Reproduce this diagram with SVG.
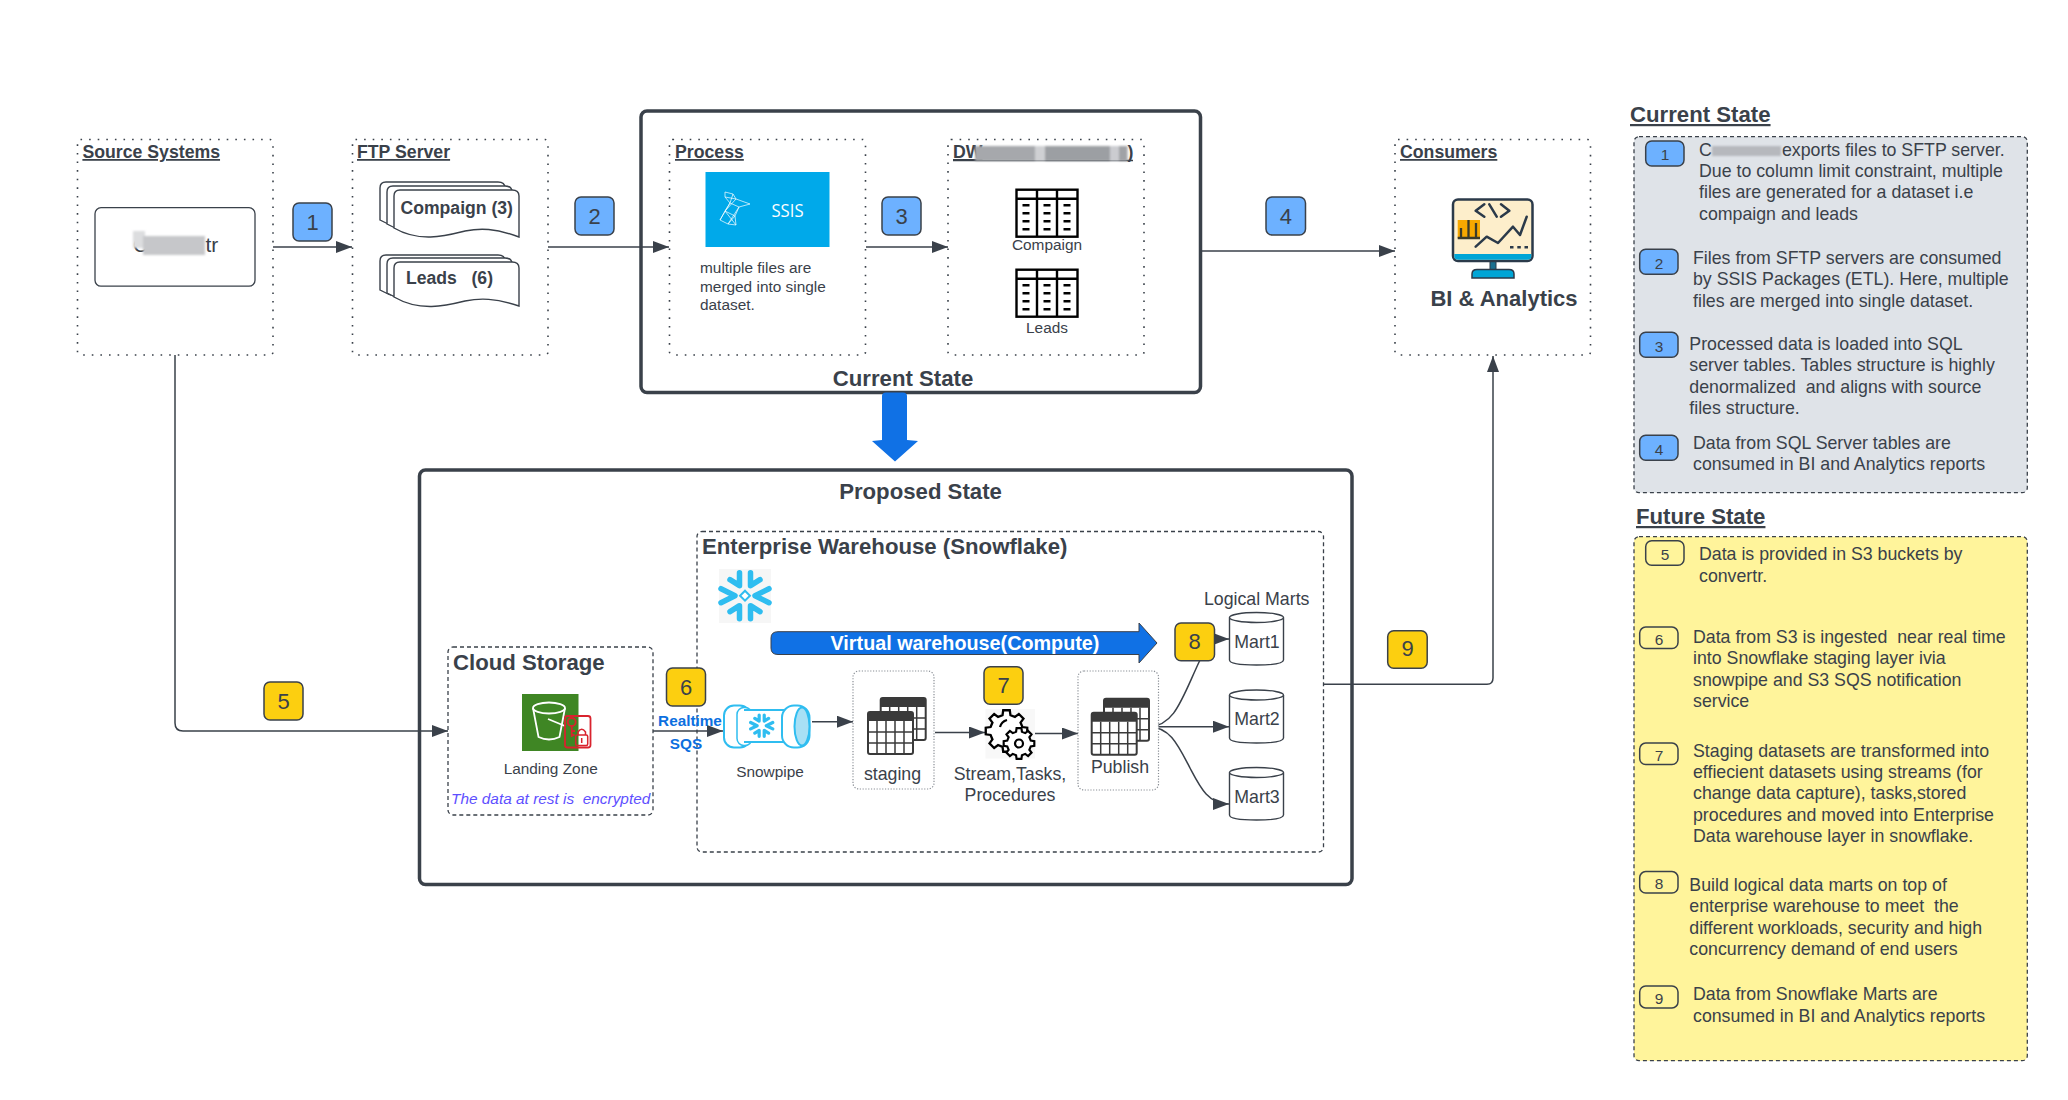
<svg xmlns="http://www.w3.org/2000/svg" width="2068" height="1100" viewBox="0 0 2068 1100">
<style>
text{font-family:"Liberation Sans",Arial,sans-serif;fill:#3a414a;white-space:pre}
.t{font-size:17.75px}
.h{font-size:17.7px;font-weight:bold;text-decoration:underline}
.b22{font-size:22.2px;font-weight:bold}
.s{font-size:15.4px}
.c{text-anchor:middle}
.num{font-size:22px;text-anchor:middle}
.n{font-size:15.4px;text-anchor:middle}
.dot{fill:none;stroke:#3a414a;stroke-width:1.6;stroke-dasharray:1.6 7}
.dash{fill:none;stroke:#3a414a;stroke-width:1.3;stroke-dasharray:4 3}
.frame{fill:#fff;stroke:#3a414a;stroke-width:3.5}
.lite{fill:#fff;stroke:#8a8f96;stroke-width:1.2;stroke-dasharray:1.2 1.6}
.bb{fill:#6db1ff;stroke:#3a414a;stroke-width:1.5}
.by{fill:#fccf10;stroke:#3a414a;stroke-width:1.5}
.bn{fill:none;stroke:#3a414a;stroke-width:1.5}
.conn{fill:none;stroke:#3a414a;stroke-width:1.5;marker-end:url(#arr)}
.doc{fill:#fff;stroke:#3a414a;stroke-width:1.4}
.cyl{fill:#fff;stroke:#3a414a;stroke-width:1.4}
.arm{fill:none;stroke:#2fbdf0;stroke-linecap:round;stroke-linejoin:round}
.blur{filter:url(#soft)}
.red{fill:none;stroke:#d9232e}
.mon{fill:none;stroke:#2b3a4a;stroke-width:2.5;stroke-linejoin:round;stroke-linecap:round}
</style>
<defs>
<filter id="soft" x="-5%" y="-20%" width="110%" height="140%"><feGaussianBlur stdDeviation="1"/></filter>
<marker id="arr" markerUnits="userSpaceOnUse" markerWidth="17" markerHeight="12" refX="16" refY="6" orient="auto"><path d="M0 0L16 6L0 12Z" fill="#3a414a"/></marker>
<path id="d1" d="M394 228V196Q394 190 400 190H512Q519 190 519 196V237C495 228 480 228 465 231C445 236 420 243 394 228Z"/>
<path id="d2" d="M394 297V268Q394 262 400 262H512Q519 262 519 268V306C495 298 480 298 465 301C445 306 420 312 394 297Z"/>
<g id="dwt">
<rect x="1" y="1" width="61" height="47" fill="#fff" stroke="#000" stroke-width="2.4"/>
<path d="M1 10H62M21.500 1V48M41.500 1V48" stroke="#000" stroke-width="2.4" fill="none"/>
<path d="M7 16.500h7M7 24.500h7M7 32.500h7M7 40.500h7M28 16.500h7M28 24.500h7M28 32.500h7M28 40.500h7M48 16.500h7M48 24.500h7M48 32.500h7M48 40.500h7" stroke="#000" stroke-width="2.400"/>
</g>
<g id="grid">
<rect x="0" y="0" width="45" height="42" rx="2" fill="#fff" stroke="#3a3a3a" stroke-width="2"/>
<path d="M0 2Q0 0 2 0H43Q45 0 45 2V9H0Z" fill="#3a3a3a"/>
<path d="M9 9V42M18 9V42M27 9V42M36 9V42M0 20H45M0 31H45" stroke="#3a3a3a" stroke-width="1.500" fill="none"/>
</g>
<path id="flake" class="arm" d="M-5.500 -23V-10L-15 -16M5.500 -23V-10L15 -16M-5.500 23V10L-15 16M5.500 23V10L15 16M-24 -7L-10 0L-24 7M24 -7L10 0L24 7"/>
<path id="gear" d="M-18.900-75.700L-15.600-98.800L15.600-98.800L18.900-75.700L40.200-66.900L58.800-80.900L80.900-58.800L66.900-40.200L75.700-18.900L98.800-15.600L98.800 15.600L75.700 18.900L66.900 40.200L80.900 58.800L58.800 80.900L40.200 66.900L18.900 75.700L15.600 98.800L-15.600 98.800L-18.900 75.700L-40.200 66.900L-58.800 80.900L-80.900 58.800L-66.900 40.200L-75.700 18.900L-98.800 15.600L-98.800-15.600L-75.700-18.900L-66.900-40.200L-80.900-58.800L-58.800-80.900L-40.200-66.900Z"/>
</defs>

<rect width="2068" height="1100" fill="#fff"/>

<g id="current-state-frame"><rect class="frame" x="641" y="111" width="559.500" height="281.500" rx="6"/>
<text class="b22 c" x="903" y="385.500">Current State</text></g>
<g id="proposed-state-frame"><rect class="frame" x="419.500" y="470" width="932.500" height="414.500" rx="6"/>
<text class="b22 c" x="920.500" y="498.500">Proposed State</text></g>
<g id="enterprise-warehouse"><rect class="dash" x="697" y="531.500" width="626.500" height="320.500" rx="5"/>
<text class="b22" x="702" y="553.500">Enterprise Warehouse (Snowflake)</text></g>

<g id="connectors">
<path class="conn" d="M273 247H352"/>
<path class="conn" d="M548 247H669"/>
<path class="conn" d="M866 247H948"/>
<path class="conn" d="M1200.500 251H1395"/>
<path class="conn" d="M175 355V723Q175 731 183 731H448"/>
<path class="conn" d="M653 731H723"/>
<path class="conn" d="M812 721.700H853"/>
<path class="conn" d="M935 732.500H985"/>
<path class="conn" d="M1035 733.500H1078"/>
<path class="conn" d="M1149 726.700C1175 726 1182 698 1200 660C1208 645 1212 639 1229 639"/>
<path class="conn" d="M1149 726.700H1229"/>
<path class="conn" d="M1149 726.700C1170 727 1178 745 1190 768C1200 787 1208 804 1229 804"/>
<path class="conn" d="M1323.500 684.300H1487Q1493 684.300 1493 678V356"/>
</g>

<g id="source-systems"><rect class="dot" x="77.500" y="139.500" width="195.500" height="215.500" rx="3"/>
<text class="h" x="82.400" y="158">Source Systems</text>
<rect x="95" y="207.700" width="160" height="78.500" rx="6" fill="#fff" stroke="#3a414a" stroke-width="1.300"/>
<text x="133" y="251.500" font-size="21">C</text><text x="205.500" y="251.500" font-size="21">tr</text>
<g class="blur"><rect x="133" y="231" width="12" height="17" fill="#dcdddf"/><rect x="143" y="236" width="62" height="19" fill="#c6c7ca"/></g></g>

<g id="ftp-server"><rect class="dot" x="352.500" y="139.500" width="195.500" height="215.500" rx="3"/>
<text class="h" x="357" y="158">FTP Server</text>
<use href="#d1" class="doc" x="-14" y="-8"/><use href="#d1" class="doc" x="-7" y="-4"/><use href="#d1" class="doc"/>
<text class="t" font-weight="bold" x="400.500" y="214" style="font-size:17.6px">Compaign (3)</text>
<use href="#d2" class="doc" x="-14" y="-7"/><use href="#d2" class="doc" x="-7" y="-4"/><use href="#d2" class="doc"/>
<text class="t" font-weight="bold" x="406" y="283.500" style="font-size:17.6px">Leads   (6)</text></g>

<g id="process"><rect class="dot" x="669.500" y="139.500" width="196" height="215.500" rx="3"/>
<text class="h" x="675" y="158">Process</text>
<rect x="705.500" y="172" width="124" height="75" fill="#00a9ea"/>
<path d="M725 192L733 194L736 199L750 204L739 207L735 216L736 225L728 224L720 220L725 211L730 203L725 197ZM725 197L736 199M730 203L739 207M725 211L735 216M720 220L730 203M728 224L739 207M733 194L730 203M736 199L725 211M736 225L725 211M735 216L728 224" fill="none" stroke="#fff" stroke-width=".7"/>
<text x="787.500" y="216.500" font-size="18" class="c" textLength="32" lengthAdjust="spacingAndGlyphs" style="fill:#fff;font-family:'Open Sans',sans-serif">SSIS</text>
<text class="s" x="700" y="273">multiple files are</text>
<text class="s" x="700" y="291.500">merged into single</text>
<text class="s" x="700" y="310">dataset.</text></g>

<g id="dwh"><rect class="dot" x="948" y="139.500" width="196" height="215.500" rx="3"/>
<text class="h" x="953" y="158">DW</text><path d="M953 160.500H1133" stroke="#3a414a" stroke-width="1.300"/><text class="t" font-weight="bold" x="1127.500" y="158">)</text>
<g class="blur"><rect x="975" y="146" width="60" height="15" fill="#a6a8ac"/><rect x="1035" y="146" width="10" height="15" fill="#cfd0d3"/><rect x="1045" y="146" width="65" height="15" fill="#9c9fa3"/><rect x="1110" y="146" width="9" height="15" fill="#cbccd0"/><rect x="1119" y="146" width="8.500" height="15" fill="#a0a2a6"/></g>
<use href="#dwt" x="1015.500" y="188.700"/><text class="s c" x="1047" y="250">Compaign</text>
<use href="#dwt" x="1015.500" y="268.700"/><text class="s c" x="1047" y="332.500">Leads</text></g>

<g id="consumers"><rect class="dot" x="1395" y="139.500" width="195.500" height="215.500" rx="3"/>
<text class="h" x="1400" y="158">Consumers</text>
<rect x="1490" y="261" width="6" height="9" fill="#1a6f8f" stroke="#2b3a4a"/>
<path d="M1472 278V274Q1472 269.500 1477 269.500H1509Q1514 269.500 1514 274V278Z" fill="#00a5d6" stroke="#2b3a4a" stroke-width="1.500"/>
<rect x="1453" y="199.500" width="79.500" height="61.500" rx="5" fill="#fdeecb" stroke="#2b3a4a" stroke-width="2.500"/>
<path d="M1454.300 254H1531.300V256.500Q1531.300 259.800 1527 259.800H1458.500Q1454.300 259.800 1454.300 256.500Z" fill="#00a5d6"/>
<rect x="1457.700" y="220" width="22.300" height="18" fill="#f7a800"/>
<path d="M1461 238V228M1468.500 238V220M1476 238V223M1457.700 238H1480" fill="none" stroke="#3a3a2a" stroke-width="2.300"/>
<path class="mon" d="M1484.300 204.300L1475.700 210.700L1484.300 216.700M1501 204.300L1509.300 210.700L1501 216.700M1489.300 204.300L1496.700 216.700M1475.700 246.700L1486.700 236.700L1498 243L1513 226.700L1520 235L1526.700 216.700"/>
<path d="M1510 247.300h3.500M1517.300 247.300h3.500M1524.500 247.300h3.500" stroke="#2b3a4a" stroke-width="2.500"/>
<text x="1504" y="306" font-size="22" font-weight="bold" class="c">BI &amp; Analytics</text></g>

<g id="cloud-storage"><rect class="dash" x="448" y="647" width="205" height="168" rx="5"/>
<text class="b22" x="453" y="670">Cloud Storage</text>
<rect x="522" y="694" width="56.500" height="57" fill="#3f8624"/>
<path d="M533 708L538.500 737Q549 742 559.500 737L565 708" fill="none" stroke="#fff" stroke-width="1.800"/><ellipse cx="549" cy="708" rx="16" ry="5.500" fill="none" stroke="#fff" stroke-width="1.800"/><path d="M548 719L565 726" stroke="#fff" stroke-width="1.800"/>
<rect class="red" x="565" y="716" width="25.500" height="31.500" rx="2.500" stroke-width="1.800"/>
<circle class="red" cx="571.700" cy="722" r="4" stroke-width="1.800"/><path class="red" d="M571.700 726V737M571.700 731H575M571.700 735H574.500" stroke-width="1.800"/>
<rect class="red" x="575.700" y="735" width="12" height="10.500" rx="1.500" stroke-width="1.500"/><path class="red" d="M578 735V732Q581.700 726.500 585.500 732V735M581.700 738V743" stroke-width="1.500"/>
<text class="s c" x="550.700" y="774">Landing Zone</text>
<text class="s" x="451" y="803.500" font-style="italic" style="fill:#5e4fff">The data at rest is  encrypted</text></g>

<g id="snowflake-logo"><rect x="719" y="569" width="52" height="54" fill="#f6f6f6"/>
<g transform="translate(745 595.700)"><use href="#flake" stroke-width="5.500"/>
<rect x="-3.500" y="-3.500" width="7" height="7" transform="rotate(45)" fill="#fff" stroke="#2fbdf0" stroke-width="2"/></g></g>

<g id="virtual-warehouse"><path d="M778 631.700H1139V623L1157 643L1139 663V654.500H778Q771 654.500 771 648V638Q771 631.700 778 631.700Z" fill="#1071e5" stroke="#3a414a"/>
<text x="965" y="650" font-size="19.800" font-weight="bold" class="c" style="fill:#fff">Virtual warehouse(Compute)</text></g>

<g id="blue-arrow"><path d="M882 396Q882 392.500 886 392.500H903Q907 392.500 907 396V440L918 441L895 461.500L872 441L882 440Z" fill="#1071e5"/></g>

<g id="realtime-sqs"><text x="690" y="725.500" font-size="15.300" font-weight="bold" class="c" style="fill:#0c6fdf">Realtime</text>
<text x="686" y="748.500" font-size="15.300" font-weight="bold" class="c" style="fill:#0c6fdf">SQS</text></g>

<g id="snowpipe">
<rect x="738" y="710" width="50" height="32" fill="#fff" stroke="#2fbdf0" stroke-width="2"/>
<rect x="724" y="705.500" width="26" height="42" rx="10" fill="#fff" stroke="#2fbdf0" stroke-width="2"/>
<rect x="737" y="707.500" width="15" height="38" rx="7" fill="#fff" stroke="#2fbdf0" stroke-width="1.500"/>
<rect x="744" y="710" width="40" height="32" fill="#fff"/><path d="M744 710H784M744 742H784" stroke="#2fbdf0" stroke-width="2"/>
<rect x="782" y="705.500" width="27.500" height="42" rx="12" fill="#fff" stroke="#2fbdf0" stroke-width="2"/>
<ellipse cx="802" cy="726.500" rx="7.500" ry="19" fill="#a8e0f5" stroke="#2fbdf0" stroke-width="2"/>
<g transform="translate(761.700 725.700) scale(.46)"><use href="#flake" stroke-width="7"/></g>
<text class="s c" x="770" y="777">Snowpipe</text></g>

<g id="staging"><rect class="lite" x="853" y="671" width="81" height="118" rx="6"/>
<use href="#grid" x="880.700" y="698"/><use href="#grid" x="868" y="712"/>
<text class="t c" x="892.500" y="779.500">staging</text></g>

<g id="stream-tasks"><rect x="985.500" y="709" width="49.500" height="49.500" fill="#f8f8f8"/>
<use href="#gear" transform="translate(1006.500 731) scale(.21)" fill="#fff" stroke="#000" stroke-width="11"/>
<path d="M1000 727A10 10 0 0 1 1007 720" fill="none" stroke="#000" stroke-width="2.200"/>
<use href="#gear" transform="translate(1019 743.500) scale(.155)" fill="#fff" stroke="#000" stroke-width="14"/>
<circle cx="1019" cy="743.500" r="4" fill="none" stroke="#000" stroke-width="2.200"/>
<text class="t c" x="1010" y="780">Stream,Tasks,</text><text class="t c" x="1010" y="801">Procedures</text></g>

<g id="publish"><rect class="lite" x="1078" y="671" width="80.500" height="119" rx="6"/>
<use href="#grid" x="1104" y="698.700"/><use href="#grid" x="1091.700" y="712.700"/>
<text class="t c" x="1120" y="773">Publish</text></g>

<g id="logical-marts"><text class="t c" x="1256.700" y="605">Logical Marts</text></g>
<g id="mart1"><path class="cyl" d="M1229.500 617.500V660Q1229.500 665 1256.500 665Q1283.500 665 1283.500 660V617.500"/><ellipse class="cyl" cx="1256.500" cy="617.500" rx="27" ry="5"/><text class="t c" x="1257" y="648">Mart1</text></g>
<g id="mart2"><path class="cyl" d="M1229.500 695V738Q1229.500 743 1256.500 743Q1283.500 743 1283.500 738V695"/><ellipse class="cyl" cx="1256.500" cy="695" rx="27" ry="5"/><text class="t c" x="1257" y="725">Mart2</text></g>
<g id="mart3"><path class="cyl" d="M1229.500 772.500V815Q1229.500 820 1256.500 820Q1283.500 820 1283.500 815V772.500"/><ellipse class="cyl" cx="1256.500" cy="772.500" rx="27" ry="5"/><text class="t c" x="1257" y="803">Mart3</text></g>

<g id="badge-1"><rect class="bb" x="293" y="203" width="39" height="38" rx="6"/><text class="num" x="312.500" y="229.500">1</text></g>
<g id="badge-2"><rect class="bb" x="575" y="197" width="39" height="38" rx="6"/><text class="num" x="594.500" y="223.500">2</text></g>
<g id="badge-3"><rect class="bb" x="882" y="197" width="39" height="38" rx="6"/><text class="num" x="901.500" y="223.500">3</text></g>
<g id="badge-4"><rect class="bb" x="1266" y="197" width="39.500" height="38" rx="6"/><text class="num" x="1285.800" y="223.500">4</text></g>
<g id="badge-5"><rect class="by" x="264" y="682" width="39" height="38" rx="6"/><text class="num" x="283.500" y="708.500">5</text></g>
<g id="badge-6"><rect class="by" x="666.500" y="668" width="39" height="38" rx="6"/><text class="num" x="686" y="694.500">6</text></g>
<g id="badge-7"><rect class="by" x="984" y="666.700" width="39" height="37.500" rx="6"/><text class="num" x="1003.500" y="692.500">7</text></g>
<g id="badge-8"><rect class="by" x="1175" y="623" width="39.500" height="37.700" rx="6"/><text class="num" x="1194.700" y="648.500">8</text></g>
<g id="badge-9"><rect class="by" x="1387.700" y="630.700" width="39.500" height="37.500" rx="6"/><text class="num" x="1407.500" y="656">9</text></g>

<g id="current-legend">
<text x="1630" y="122" font-size="22.200" font-weight="bold" text-decoration="underline">Current State</text>
<rect x="1634" y="136.700" width="393.300" height="356" rx="5" fill="#dfe3e8" stroke="#3a414a" stroke-width="1.300" stroke-dasharray="4 3"/>
<rect class="bb" x="1645.700" y="141" width="38.300" height="25" rx="6"/><text class="n" x="1665" y="160">1</text>
<text class="t" x="1699" y="155.700">C</text><text class="t" x="1782" y="155.700">exports files to SFTP server.</text>
<rect class="blur" x="1712" y="146" width="69" height="10" fill="#b6b8bd"/>
<text class="t" x="1699" y="177">Due to column limit constraint, multiple</text>
<text class="t" x="1699" y="198.300">files are generated for a dataset i.e</text>
<text class="t" x="1699" y="219.700">compaign and leads</text>
<rect class="bb" x="1639.700" y="249.300" width="38.300" height="25" rx="6"/><text class="n" x="1659" y="268.500">2</text>
<text class="t" x="1693" y="264">Files from SFTP servers are consumed</text>
<text class="t" x="1693" y="285.300">by SSIS Packages (ETL). Here, multiple</text>
<text class="t" x="1693" y="306.700">files are merged into single dataset.</text>
<rect class="bb" x="1639.700" y="332.300" width="38.300" height="25" rx="6"/><text class="n" x="1659" y="351.500">3</text>
<text class="t" x="1689.300" y="350">Processed data is loaded into SQL</text>
<text class="t" x="1689.300" y="371.300">server tables. Tables structure is highly</text>
<text class="t" x="1689.300" y="392.700">denormalized  and aligns with source</text>
<text class="t" x="1689.300" y="414">files structure.</text>
<rect class="bb" x="1639.700" y="435.300" width="38.300" height="25" rx="6"/><text class="n" x="1659" y="454.500">4</text>
<text class="t" x="1693" y="449">Data from SQL Server tables are</text>
<text class="t" x="1693" y="470.300">consumed in BI and Analytics reports</text>
</g>

<g id="future-legend">
<text x="1636" y="524" font-size="22.200" font-weight="bold" text-decoration="underline">Future State</text>
<rect x="1634" y="536.700" width="393.300" height="524" rx="5" fill="#fff49b" stroke="#3a414a" stroke-width="1.300" stroke-dasharray="4 3"/>
<rect class="bn" x="1645.700" y="540.800" width="38.300" height="24.500" rx="6"/><text class="n" x="1665" y="559.500">5</text>
<text class="t" x="1699" y="560">Data is provided in S3 buckets by</text>
<text class="t" x="1699" y="581.900">convertr.</text>
<rect class="bn" x="1639.700" y="627.100" width="38.300" height="21.500" rx="6"/><text class="n" x="1659" y="644.500">6</text>
<text class="t" x="1693" y="642.900">Data from S3 is ingested  near real time</text>
<text class="t" x="1693" y="664.400">into Snowflake staging layer ivia</text>
<text class="t" x="1693" y="685.700">snowpipe and S3 SQS notification</text>
<text class="t" x="1693" y="707">service</text>
<rect class="bn" x="1639.700" y="743.100" width="38.300" height="21.500" rx="6"/><text class="n" x="1659" y="760.500">7</text>
<text class="t" x="1693" y="756.700">Staging datasets are transformed into</text>
<text class="t" x="1693" y="778">effiecient datasets using streams (for</text>
<text class="t" x="1693" y="799.400">change data capture), tasks,stored</text>
<text class="t" x="1693" y="820.800">procedures and moved into Enterprise</text>
<text class="t" x="1693" y="842.200">Data warehouse layer in snowflake.</text>
<rect class="bn" x="1639.700" y="871.600" width="38.300" height="21.500" rx="6"/><text class="n" x="1659" y="888.500">8</text>
<text class="t" x="1689.300" y="891">Build logical data marts on top of</text>
<text class="t" x="1689.300" y="912.400">enterprise warehouse to meet  the</text>
<text class="t" x="1689.300" y="933.600">different workloads, security and high</text>
<text class="t" x="1689.300" y="955">concurrency demand of end users</text>
<rect class="bn" x="1639.700" y="986" width="38.300" height="21.900" rx="6"/><text class="n" x="1659" y="1003.500">9</text>
<text class="t" x="1693" y="1000.400">Data from Snowflake Marts are</text>
<text class="t" x="1693" y="1021.800">consumed in BI and Analytics reports</text>
</g>
</svg>
